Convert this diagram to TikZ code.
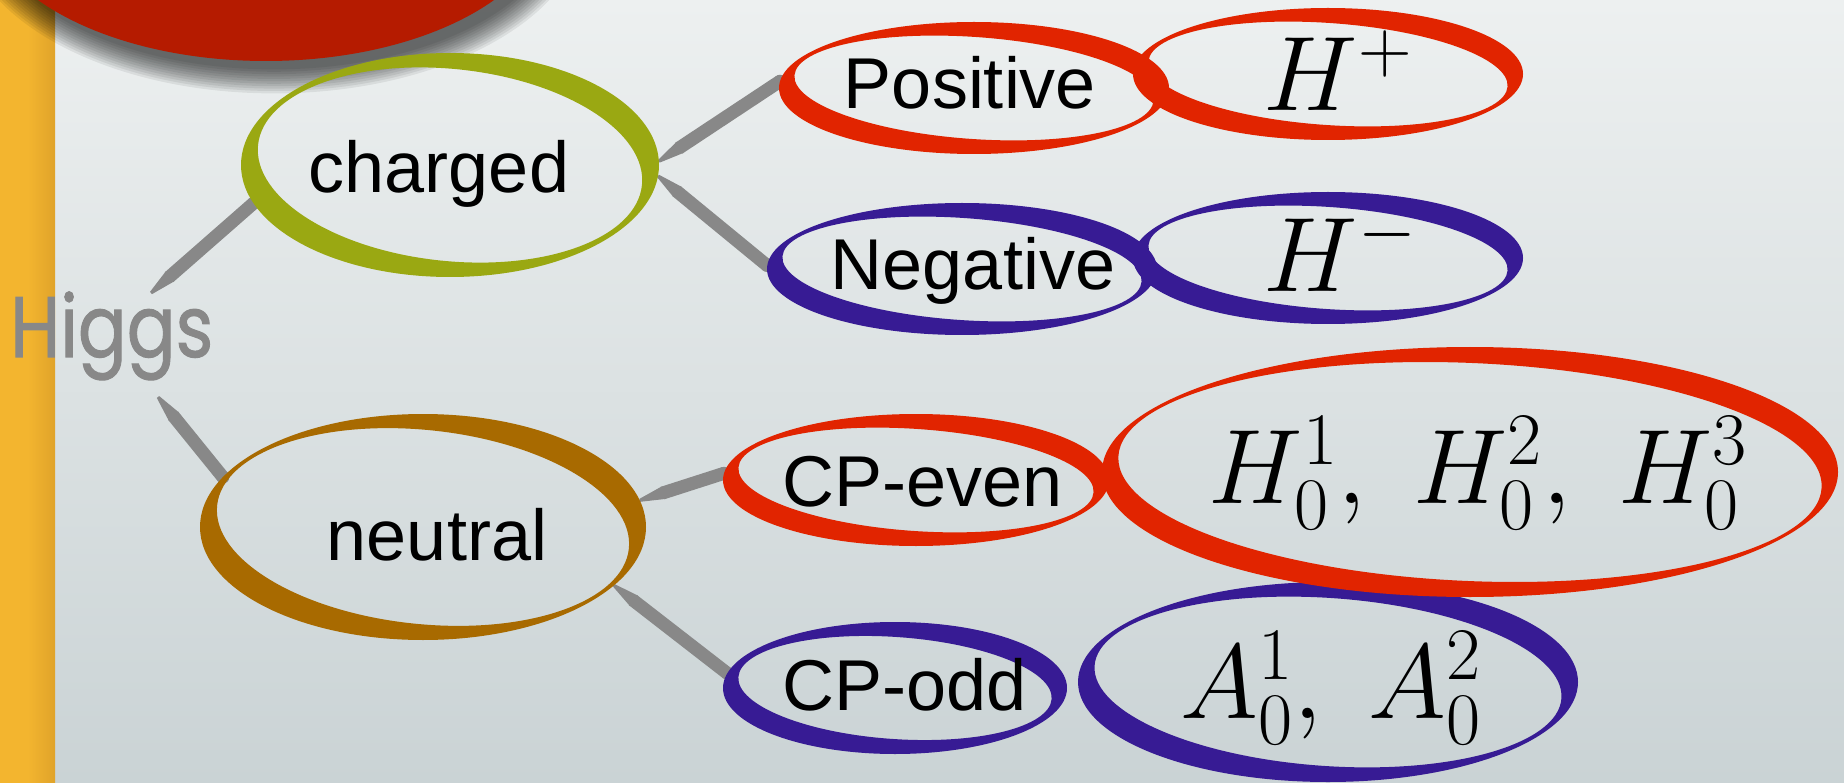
\RequirePackage{fix-cm}
\documentclass[tikz,border=0pt]{standalone}
\usepackage[no-math]{fontspec}
\setmainfont{Liberation Sans}
\newfontfamily\higgsfont[FakeBold=1.2]{Poppins}
\usetikzlibrary{shapes.geometric,calc}
\definecolor{bgtop}{RGB}{237,240,240}
\definecolor{bgbot}{RGB}{202,211,213}
\definecolor{barL}{RGB}{243,181,47}
\definecolor{barR}{RGB}{224,163,42}
\definecolor{blobRed}{RGB}{181,27,0}
\definecolor{ringRed}{RGB}{225,36,0}
\definecolor{ringBlue}{RGB}{55,27,148}
\definecolor{ringOlive}{RGB}{154,168,18}
\definecolor{ringBrown}{RGB}{168,106,0}
\definecolor{connGray}{RGB}{136,136,136}
\newcommand\brushring[7]{%
  \pgfmathsetmacro\rrA{#4-#6}%
  \pgfmathsetmacro\rrB{#5-#6}%
  \pgfmathsetmacro\rrAx{\rrA*cos(#7)}%
  \pgfmathsetmacro\rrAy{\rrA*sin(#7)}%
  \pgfmathsetmacro\rrBx{-\rrB*sin(#7)}%
  \pgfmathsetmacro\rrBy{\rrB*cos(#7)}%
  \begin{pgfscope}%
    \pgfsetfillcolor{#1}%
    \pgfpathellipse{\pgfpoint{#2pt}{-#3pt}}{\pgfpoint{#4pt}{0pt}}{\pgfpoint{0pt}{#5pt}}%
    \pgfpathellipse{\pgfpoint{#2pt}{-#3pt}}{\pgfpoint{\rrAx pt}{\rrAy pt}}{\pgfpoint{\rrBx pt}{\rrBy pt}}%
    \pgfseteorule
    \pgfusepath{fill}%
  \end{pgfscope}}
% brush connector: tapered start at #1, round end at #2
\newcommand\brushline[2]{%
  \draw[conn] ($(#1)!24pt!(#2)$) -- (#2);
  \fill[connGray] (#2) circle [radius=6.5pt];
  \fill[connGray] ($(#1)!1.5pt!90:(#2)$) -- ($($(#1)!25pt!(#2)$)!6.5pt!90:(#2)$)
     -- ($($(#1)!25pt!(#2)$)!6.5pt!-90:(#2)$) -- ($(#1)!1.5pt!-90:(#2)$) -- cycle;
}
\begin{document}
\begin{tikzpicture}[x=1pt,y=-1pt,
  lbl/.style={font=\fontsize{72}{80}\selectfont, inner sep=0pt, anchor=base},
  mlbl/.style={font=\fontsize{106}{110}\selectfont, inner sep=0pt, anchor=base},
  oval/.style={ellipse, inner sep=0pt, outer sep=0pt},
  conn/.style={line width=13pt, line cap=butt, draw=connGray},
]
\useasboundingbox (0,0) rectangle (1844,783);
% background
\shade[top color=bgtop, bottom color=bgbot] (0,0) rectangle (1844,783);
% left bar
\shade[left color=barL, right color=barR, middle color=barL] (0,0) rectangle (55,783);
% shadow of red blob
\foreach \i in {1,...,11} {
  \fill[black, opacity=0.07] (274,-84) ellipse [x radius={284+2.6*\i}, y radius={151+2.4*\i}];
}
\fill[blobRed] (266,-90) ellipse [x radius=284, y radius=151];

% invisible ellipse nodes (ring outlines drawn below)
\node[oval, minimum width=418pt, minimum height=224pt] (charged) at (450,165) {};
\node[oval, minimum width=446pt, minimum height=226pt] (neutral) at (423,527) {};
\node[oval, minimum width=390pt, minimum height=132pt] (pos) at (974,88) {};
\node[oval, minimum width=390pt, minimum height=132pt] (neg) at (962,269) {};
\node[oval, minimum width=390pt, minimum height=132pt] (hp) at (1328,74) {};
\node[oval, minimum width=390pt, minimum height=132pt] (hm) at (1328,258) {};
\node[oval, minimum width=386pt, minimum height=132pt] (even) at (916,480) {};
\node[oval, minimum width=344pt, minimum height=132pt] (odd) at (895,688) {};
\node[oval, minimum width=736pt, minimum height=250pt] (hzero) at (1470,472) {};
\node[oval, minimum width=500pt, minimum height=200pt] (azero) at (1328,682) {};

% Higgs
\node[font=\higgsfont\fontsize{86}{90}\selectfont, text=connGray, inner sep=0pt, anchor=base west] (higgs) at (10,357) {\scalebox{0.84}[1]{Higgs}};
\coordinate (higgsUp) at ($(higgs.base west)+(141,-64)$);
\coordinate (higgsDown) at ($(higgs.base west)+(148,40)$);

% connectors
\brushline{higgsUp}{charged.191}
\brushline{higgsDown}{neutral.166}
\brushline{charged.1}{pos.178}
\brushline{charged.-3}{neg.179}
\brushline{neutral.7}{even.178}
\brushline{neutral.-17}{odd.175}

% rings
\brushring{ringOlive}{450}{165}{209}{112}{16}{-6}
\brushring{ringBrown}{423}{527}{223}{113}{16}{-6}
\brushring{ringRed}{974}{88}{195}{66}{15}{-4}
\brushring{ringBlue}{962}{269}{195}{66}{15}{-4}
\brushring{ringRed}{1328}{74}{195}{66}{15}{-4}
\brushring{ringBlue}{1328}{258}{195}{66}{15}{-4}
\brushring{ringRed}{916}{480}{193}{66}{15}{-4}
\brushring{ringBlue}{895}{688}{172}{66}{15}{-4}
\brushring{ringBlue}{1328}{682}{250}{100}{16}{-4}
\brushring{ringRed}{1470}{472}{368}{125}{16}{-2.5}

% labels
\node[lbl] (chargedT) at (439,193) {charged};
\node[lbl] (neutralT) at (437,560) {neutral};
\node[lbl] (posT) at (970,109) {Positive};
\node[lbl] (negT) at (973,290) {Negative};
\node[lbl] (evenT) at (923,506) {CP-even};
\node[lbl] (oddT) at (905,710) {CP-odd};
\node[mlbl] (hpT) at (1338,111) {$H^+$};
\node[mlbl] (hmT) at (1340,292) {$H^-$};
\node[mlbl] (hzeroT) at (1478,503) {$H_0^1,\ H_0^2,\ H_0^3$};
\node[mlbl] (azeroT) at (1331,718) {$A_0^1,\ A_0^2$};
\end{tikzpicture}
\end{document}
